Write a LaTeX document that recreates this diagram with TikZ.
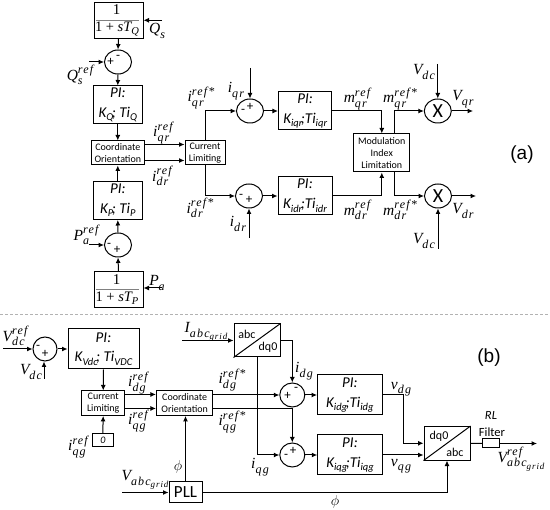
\documentclass[tikz,border=0pt]{standalone}
\usepackage[no-math]{fontspec}
\setmainfont{Carlito}
\newfontfamily\arialf{Liberation Sans}
\newfontfamily\mfam{Liberation Serif}
\newfontfamily\mfams[LetterSpace=10]{Liberation Serif}
\usetikzlibrary{arrows.meta,shapes.geometric}
\newbox\mlsub \newbox\mlsup
\newcommand\subt[1]{\raisebox{-3.5pt}{\fontsize{10.5}{10.5}\selectfont #1}}
\newcommand\pitext[2]{\begin{tabular}{@{}c@{}}\fontsize{15}{15}\selectfont\itshape PI:\\[6pt]\fontsize{15}{15}\selectfont\itshape #1\kern-1.5pt;#2\end{tabular}}
\newcommand\scrpt[1]{\mfams\itshape\fontsize{12}{12}\selectfont #1}
\newcommand\ml[3]{{\mfam\itshape\fontsize{15.5}{15.5}\selectfont #1}\setbox\mlsub=\hbox{\raisebox{-4.5pt}{\scrpt{#2}}}\setbox\mlsup=\hbox{\raisebox{6.5pt}{\scrpt{#3}}}\ifdim\wd\mlsub>\wd\mlsup \rlap{\box\mlsup}\box\mlsub\else\rlap{\box\mlsub}\box\mlsup\fi}
\newcommand\grid{abc\raisebox{-2.5pt}{\fontsize{9}{9}\selectfont grid}}
\newcommand\lab[3]{\node[lbl] (#1) at (#2) {#3};}
\newcommand\sgn[3]{\node[sgnt] (#1) at (#2) {#3};}
\newcommand\denom[1]{{\mfam\fontsize{14.5}{14.5}\selectfont 1 + \itshape sT\raisebox{-3pt}{\fontsize{10.5}{10.5}\selectfont #1}}}
\tikzset{
  x=1pt,y=-1pt,
  blk/.style={draw,line width=1pt,inner sep=0pt,minimum width=#1},
  arr/.style={line width=1pt,-{Latex[length=5.5pt,width=5pt]}},
  wire/.style={line width=1pt},
  summ/.style={draw,line width=1pt,ellipse,inner sep=0pt,minimum width=27pt,minimum height=24pt},
  lbl/.style={inner sep=0pt,font=\fontsize{15}{15}\selectfont},
  sgnt/.style={inner sep=0pt,font=\fontsize{13}{13}\selectfont},
  small/.style={align=center,font=\fontsize{10}{12.3}\selectfont},
}
\begin{document}
\begin{tikzpicture}
\useasboundingbox (0,0) rectangle (550,510);
% --- part (a) boxes
\node[blk=49pt,minimum height=35.5pt] (tq) at (118.5,20.3) {};
\node[summ] (sq) at (118,62) {};
\node[blk=48.5pt,minimum height=38pt] (piq) at (117.8,105) {\pitext{K\subt{Q}}{ Ti\subt{Q}}};
\node[blk=53.5pt,minimum height=24pt,small] (co) at (117.8,153) {Coordinate\\Orientation};
\node[blk=40pt,minimum height=24pt,small] (cl) at (205,153) {Current\\Limiting};
\node[blk=48.5pt,minimum height=38pt] (pip) at (117.8,200.5) {\pitext{K\subt{P}}{ Ti\subt{P}}};
\node[summ] (sp) at (118,245) {};
\node[blk=49pt,minimum height=35.5pt] (tp) at (118.5,289.5) {};
\node[summ] (siq) at (250,111) {};
\node[summ] (sid) at (249,196) {};
\node[blk=53.5pt,minimum height=38pt] (piqr) at (305.2,111) {\pitext{K\subt{iqr}}{Ti\subt{iqr}}};
\node[blk=54pt,minimum height=38pt] (pidr) at (305,195.7) {\pitext{K\subt{idr}}{Ti\subt{idr}}};
\node[blk=55.7pt,minimum height=38pt,small] (mod) at (381.8,153) {Modulation\\Index\\Limitation};
\node[summ,font=\fontsize{20}{20}\selectfont] (xq) at (437.8,111) {X};
\node[summ,font=\fontsize{20}{20}\selectfont] (xd) at (438,196) {X};
% free ends (a)
\coordinate (qsin) at (162,20.3);
\coordinate (qrefin) at (89,62);
\coordinate (prefin) at (89,245);
\coordinate (pin) at (162,288);
\coordinate (iqin) at (250,68);
\coordinate (idin) at (249,238);
\coordinate (vt) at (437.8,64);
\coordinate (vb) at (438,249);
\coordinate (vqo) at (473,111);
\coordinate (vdo) at (476,196);
\coordinate (a3) at (394,134);
\coordinate (a4) at (394,172);
% connectors (a)
\draw[arr] (qsin) -- (tq.east);
\draw[arr] (tq.south) -- (sq.north);
\draw[arr] (qrefin) -- (sq.west);
\draw[arr] (sq.south) -- (piq.north);
\draw[arr] (piq.south) -- (co.north);
\draw[arr] (pip.north) -- (co.south);
\draw[arr] (sp.north) -- (pip.south);
\draw[arr] (tp.north) -- (sp.south);
\draw[arr] (prefin) -- (sp.west);
\draw[arr] (pin) -- (pin -| tp.east);
\draw[arr] ([yshift=-4pt]co.north east) -- ([yshift=-4pt]cl.north west);
\draw[arr] ([yshift=5pt]co.south east) -- ([yshift=5pt]cl.south west);
\draw[arr] (cl.north) |- (siq.west);
\draw[arr] (cl.south) |- (sid.west);
\draw[arr] (iqin) -- (siq.north);
\draw[arr] (idin) -- (sid.south);
\draw[arr] (siq.east) -- (piqr.west);
\draw[arr] (sid.east) -- (sid.east -| pidr.west);
\draw[arr] (piqr.east) -| (mod.north);
\draw[arr] (pidr.east) -| (mod.south);
\draw[arr] (a3) |- (xq.west);
\draw[arr] (a4) |- (xd.west);
\draw[arr] (vt) -- (xq.north);
\draw[arr] (vb) -- (xd.south);
\draw[arr] (xq.east) -- (vqo);
\draw[arr] (xd.east) -- (vdo);
% fraction contents
\lab{t1}{116.5,10}{\mfam 1}
\draw[line width=1pt,draw=gray] ([xshift=2pt]tq.west) -- ([xshift=-5pt]tq.east);
\lab{t2}{117,29}{\denom{Q}}
\lab{t3}{117,298.5}{\denom{P}}
\lab{t4}{116.5,280}{\mfam 1}
\draw[line width=1pt,draw=gray] ([xshift=2pt,yshift=-0.5pt]tp.west) -- ([xshift=-5pt,yshift=-0.5pt]tp.east);
% signs
\sgn{s1}{110.5,62}{+}\sgn{s2}{118,57}{-}
\sgn{s3}{109,245}{-}\sgn{s4}{117,250}{+}
\sgn{s5}{243,111.5}{-}\sgn{s6}{250,107}{+}
\sgn{s7}{241,196}{-}\sgn{s8}{249,200}{+}
% labels (a)
\lab{l1}{157,31}{\ml{Q}{s}{}}
\lab{l2}{80,75}{\ml{Q}{s}{ref}}
\lab{l3}{163,133}{\ml{i}{qr}{ref}}
\lab{l4}{162,176}{\ml{i}{dr}{ref}}
\lab{l5}{201,98}{\ml{i}{qr}{ref*}}
\lab{l6}{200,208}{\ml{i}{dr}{ref*}}
\lab{l7}{236,91}{\ml{i}{qr}{}}
\lab{l8}{238,224}{\ml{i}{dr}{}}
\lab{l9}{86,235}{\ml{P}{a}{ref}}
\lab{l10}{157,283}{\ml{P}{a}{}}
\lab{l11}{357,99}{\ml{m}{qr}{ref}}
\lab{l12}{400,99}{\ml{m}{qr}{ref*}}
\lab{l13}{357,210}{\ml{m}{dr}{ref}}
\lab{l14}{400,210}{\ml{m}{dr}{ref*}}
\lab{l15}{424,72}{\ml{V}{dc}{}}
\lab{l16}{424,241}{\ml{V}{dc}{}}
\lab{l17}{463,99}{\ml{V}{qr}{}}
\lab{l18}{463,211}{\ml{V}{dr}{}}
\node[inner sep=0pt,font=\fontsize{19}{19}\arialf] (la) at (522,155) {(a)};
% separator
\coordinate (d1) at (0,314);
\coordinate (d2) at (550,314);
\draw[gray!60,line width=0.8pt,dash pattern=on 3pt off 2pt] (d1) -- (d2);
% --- part (b) boxes
\node[summ,minimum width=24pt] (svdc) at (45,349) {};
\node[blk=71pt,minimum height=40pt] (pivdc) at (103.5,349) {\pitext{K\subt{Vdc}}{ Ti\subt{VDC}}};
\node[blk=42.5pt,minimum height=24.5pt,small] (clb) at (103.2,403.2) {Current\\Limiting};
\node[blk=56.5pt,minimum height=24.5pt,small] (cob) at (184.7,403.2) {Coordinate\\Orientation};
\node[blk=21.5pt,minimum height=13pt,font=\fontsize{10}{10}\selectfont\itshape] (zero) at (102.8,440.5) {0};
\node[blk=33pt,minimum height=21pt,font=\fontsize{17}{17}\selectfont] (pll) at (185.5,492.5) {PLL};
\node[blk=46pt,minimum height=33pt] (ad) at (257,340.5) {};
\node[summ,minimum width=25pt] (sdg) at (292.3,395) {};
\node[summ,minimum width=25pt] (sqg) at (292.3,455) {};
\node[blk=64.5pt,minimum height=40pt] (pidg) at (349.8,395) {\pitext{K\subt{idg}}{Ti\subt{idg}}};
\node[blk=64.5pt,minimum height=40pt] (piqg) at (350,455) {\pitext{K\subt{iqg}}{Ti\subt{iqg}}};
\node[blk=46pt,minimum height=33.5pt] (da) at (447,443.3) {};
\node[blk=16.7pt,minimum height=9pt] (rl) at (490.7,443.5) {};
% free ends (b)
\coordinate (vrefin) at (3,349);
\coordinate (vdcin) at (44,379);
\coordinate (iin) at (182,340.5);
\coordinate (vin) at (122,492.5);
\coordinate (vout) at (537,443.5);
\coordinate (b1) at (257,455);
\coordinate (b2c) at (403,395);
% connectors (b)
\draw[arr] (vrefin) -- (svdc.west);
\draw[arr] (vdcin) -- (vdcin |- svdc.south);
\draw[arr] (svdc.east) -- (pivdc.west);
\draw[arr] (pivdc.south) -- (clb.north);
\draw[arr] (zero.north) -- (clb.south);
\draw[arr] ([yshift=-4pt]clb.north east) -- ([yshift=-4pt]cob.north west);
\draw[arr] ([yshift=7.5pt]clb.south east) -- ([yshift=7.5pt]cob.south west);
\draw[arr] (pll.north) -- (pll.north |- cob.south);
\draw[arr] (vin) -- (pll.west);
\draw[arr] (pll.east) -| (da.south);
\draw[arr] (iin) -- (ad.west);
\draw[arr] (ad.east) -| (sdg.north);
\draw[arr] (ad.south) -- (b1) -- (sqg.west);
\draw[arr] (sdg.west -| cob.east) -- (sdg.west);
\draw[arr] ([yshift=7pt]cob.south east) -| (sqg.north);
\draw[arr] (sdg.east) -- (pidg.west);
\draw[arr] (sqg.east) -- (piqg.west);
\draw[arr] (pidg.east) -- (b2c) |- (da.west);
\draw[arr] (piqg.east) -- (piqg.east -| da.south west);
\draw[wire] (da.east) -- (rl.west);
\draw[arr] (rl.east) -- (vout);
% diagonals
\draw[wire] (ad.south west) -- (ad.north east);
\draw[wire] (da.south west) -- (da.north east);
% signs
\sgn{s9}{38,347}{-}\sgn{s10}{45,354}{+}
\sgn{s11}{287.5,396}{+}\sgn{s12}{296,389}{-}
\sgn{s13}{286,456}{-}\sgn{s14}{293,451}{+}
% labels (b)
\lab{b2}{15,336}{\ml{V}{dc}{ref}}
\lab{b3}{31,372}{\ml{V}{dc}{}}
\lab{b4}{138,383}{\ml{i}{dg}{ref}}
\lab{b5}{138,421}{\ml{i}{qg}{ref}}
\lab{b6}{78,447}{\ml{i}{qg}{ref}}
\lab{b7}{178,467}{$\phi$}
\lab{b8}{145,480}{\ml{V}{\grid}{}}
\lab{b9}{206,332}{\ml{I}{\grid}{}}
\lab{b10}{232,380}{\ml{i}{dg}{ref*}}
\lab{b11}{232,422}{\ml{i}{qg}{ref*}}
\lab{b12}{304,371}{\ml{i}{dg}{}}
\lab{b13}{260,467}{\ml{i}{qg}{}}
\lab{b14}{401,389}{\ml{v}{dg}{}}
\lab{b15}{401,466}{\ml{v}{qg}{}}
\lab{b16}{335,502}{$\phi$}
\lab{b17}{521,459}{\ml{V}{\grid}{ref}}
\node[inner sep=0pt,font=\fontsize{12}{12}\selectfont] (t5) at (247,334) {abc};
\node[inner sep=0pt,font=\fontsize{12}{12}\selectfont] (t6) at (268,347) {dq0};
\node[inner sep=0pt,font=\fontsize{12}{12}\selectfont] (t7) at (439,436) {dq0};
\node[inner sep=0pt,font=\fontsize{12}{12}\selectfont] (t8) at (455,452) {abc};
\node[inner sep=0pt,font=\fontsize{12.5}{12.5}\selectfont\itshape] (t9) at (491,415) {RL};
\node[inner sep=0pt,font=\fontsize{12.5}{12.5}\selectfont] (t10) at (492,432) {Filter};
\node[inner sep=0pt,font=\fontsize{19}{19}\arialf] (lb) at (489,358) {(b)};
\end{tikzpicture}
\end{document}
